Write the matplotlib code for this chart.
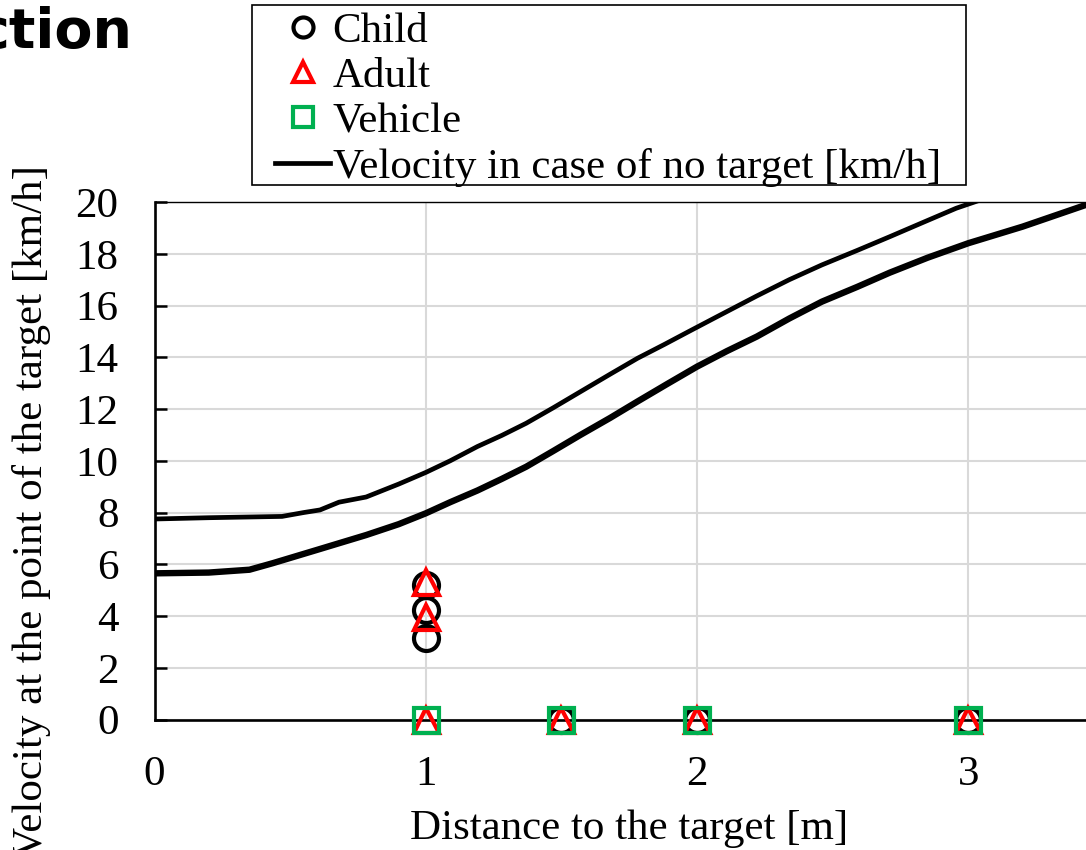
import matplotlib
matplotlib.use("Agg")
import matplotlib.pyplot as plt
from matplotlib.patches import Rectangle

plt.rcParams["font.family"] = ["Liberation Serif", "DejaVu Serif"]

# curve: velocity in case of no target (two runs)
x_upper = [0.0, 0.2, 0.47, 0.55, 0.61, 0.68, 0.78, 0.9, 1.0, 1.09, 1.19, 1.28, 1.37,
           1.47, 1.57, 1.68, 1.78, 1.88, 1.97, 2.07, 2.22, 2.34, 2.46, 2.59, 2.71,
           2.83, 2.955, 3.05]
v_upper = [7.75, 7.8, 7.85, 8.0, 8.1, 8.4, 8.6, 9.1, 9.55, 10.0, 10.55, 10.98, 11.45,
           12.05, 12.67, 13.35, 13.96, 14.5, 15.0, 15.55, 16.37, 17.0, 17.57, 18.13,
           18.66, 19.2, 19.76, 20.1]
x_lower = [0.0, 0.2, 0.35, 0.435, 0.6, 0.78, 0.9, 1.0, 1.09, 1.19, 1.28, 1.37, 1.47,
           1.57, 1.68, 1.78, 1.89, 2.0, 2.11, 2.22, 2.34, 2.46, 2.59, 2.71, 2.85,
           3.0, 3.2, 3.45]
v_lower = [5.65, 5.68, 5.79, 6.04, 6.56, 7.13, 7.55, 7.97, 8.4, 8.85, 9.3, 9.77, 10.38,
           11.0, 11.66, 12.29, 12.97, 13.64, 14.24, 14.8, 15.5, 16.15, 16.72, 17.27,
           17.85, 18.41, 19.05, 19.95]

# targets
child_x = [1.0, 1.0, 1.0, 1.5, 2.0, 3.0]
child_v = [3.15, 4.22, 5.2, 0.0, 0.0, 0.0]
adult_x = [1.0, 1.0, 1.0, 1.5, 2.0, 3.0]
adult_v = [3.95, 5.33, 0.0, 0.0, 0.0, 0.0]
vehicle_x = [1.0, 1.5, 2.0, 3.0]
vehicle_v = [0.0, 0.0, 0.0, 0.0]

xticks = [0, 1, 2, 3]
yticks = list(range(0, 21, 2))

FS = 31
W, H = 1086, 850

fig = plt.figure(figsize=(10.86, 8.5), dpi=100)
ax = fig.add_axes([0.1423, 0.1535, 0.8743, 0.6088])

ax.plot(x_upper, v_upper, color="black", lw=3.4, zorder=3,
        label="Velocity in case of no target [km/h]")
ax.plot(x_lower, v_lower, color="black", lw=4.6, zorder=3)

ms = 18
mew = 3
ax.plot(child_x, child_v, ls="none", marker="o", ms=ms, mfc="none", mec="black",
        mew=mew, zorder=4, label="Child", clip_on=False)
ax.plot(adult_x, adult_v, ls="none", marker="^", ms=ms, mfc="none", mec="#ff0000",
        mew=mew, zorder=5, label="Adult", clip_on=False)
ax.plot(vehicle_x, vehicle_v, ls="none", marker="s", ms=ms, mfc="none", mec="#00b050",
        mew=mew, zorder=6, label="Vehicle", clip_on=False)

ax.set_xlim(0, 3.5)
ax.set_ylim(0, 20)
ax.set_xticks(xticks)
ax.set_yticks(yticks)
ax.grid(True, color="#d9d9d9", lw=1.5, zorder=0)
ax.set_axisbelow(True)

ax.tick_params(axis="y", direction="in", length=8.5, width=1.8, pad=26, labelsize=FS)
ax.tick_params(axis="x", length=0, pad=26, labelsize=FS)

ax.spines["left"].set_linewidth(1.9)
ax.spines["bottom"].set_linewidth(1.9)
ax.spines["top"].set_linewidth(1.0)
ax.spines["right"].set_visible(False)

ax.set_xlabel("Distance to the target [m]", fontsize=FS)
ax.xaxis.set_label_coords(0.5, -0.174)
fig.text(32 / W, 1 - 512 / H, "Velocity at the point of the target [km/h]",
         rotation=90, ha="center", va="center", fontsize=FS)

# cut-off slide title
fig.text(133 / W, 1 - 48 / H, "ction", ha="right", va="baseline",
         fontsize=40, fontweight="bold", family=["DejaVu Sans"])

# legend box
fig.patches.append(Rectangle((252 / W, 1 - 185 / H), 714 / W, 180 / H,
                             transform=fig.transFigure, facecolor="white",
                             edgecolor="black", lw=1.2, zorder=1))

handles, labels = ax.get_legend_handles_labels()
order = [1, 2, 3, 0]
leg = fig.legend([handles[i] for i in order], [labels[i] for i in order],
                 loc="upper left", bbox_to_anchor=(275 / W, 1 - 12 / H),
                 borderaxespad=0, fontsize=FS, frameon=False, borderpad=0,
                 labelspacing=0.14, handlelength=1.28, handletextpad=0.06,
                 markerscale=0.8)
leg.set_zorder(2)

fig.savefig("out.png", dpi=100)
